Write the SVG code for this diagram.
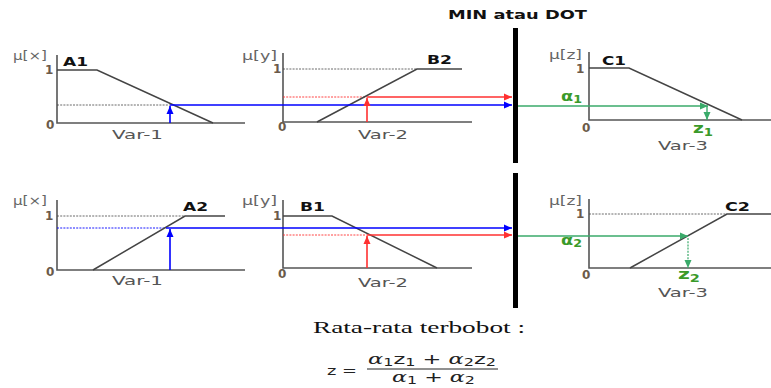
<svg xmlns="http://www.w3.org/2000/svg" width="771" height="388" viewBox="0 0 771 388">
<style>
.ax{fill:none;stroke:#555;stroke-width:1.6}
.mf{fill:none;stroke:#444;stroke-width:1.5}
.dot{stroke:#444;stroke-width:0.8;stroke-dasharray:2 1.2}
.bd{stroke:#0000ff;stroke-width:0.9;stroke-dasharray:2 1.2}
.rd{stroke:#ff3030;stroke-width:0.9;stroke-dasharray:2 1.2}
.b{stroke:#0000ff;stroke-width:1.6;fill:none}
.r{stroke:#ff3030;stroke-width:1.6;fill:none}
.g{stroke:#3aaa6a;stroke-width:1.4;fill:none}
.gd{stroke:#3aaa6a;stroke-width:1.2;stroke-dasharray:2 1.2;fill:none}
.mu{font-family:"DejaVu Sans",sans-serif;font-size:12px;fill:#666}
.n{font-family:"DejaVu Sans",sans-serif;font-size:12px;fill:#6b5a4a;font-weight:bold}
.lb{font-family:"DejaVu Sans",sans-serif;font-size:12px;fill:#111;font-weight:bold}
.v{font-family:"DejaVu Sans",sans-serif;font-size:12px;fill:#555}
.gt{font-family:"DejaVu Sans",sans-serif;font-size:14px;fill:#3a9a2a;font-weight:bold}
.bar{fill:#000}
</style>
<defs>
<marker id="ab" markerUnits="userSpaceOnUse" markerWidth="9" markerHeight="8" refX="8" refY="4" orient="auto"><path d="M0,0.5 L8,4 L0,7.5 z" fill="#0000ff"/></marker>
<marker id="ar" markerUnits="userSpaceOnUse" markerWidth="9" markerHeight="8" refX="8" refY="4" orient="auto"><path d="M0,0.5 L8,4 L0,7.5 z" fill="#ff3030"/></marker>
<marker id="ag" markerUnits="userSpaceOnUse" markerWidth="9" markerHeight="8" refX="8" refY="4" orient="auto"><path d="M0,0.5 L8,4 L0,7.5 z" fill="#3aaa6a"/></marker>
</defs>
<rect width="771" height="388" fill="#fff"/>

<text x="448" y="19" font-family="DejaVu Sans,sans-serif" font-size="13" font-weight="bold" fill="#111" textLength="139" lengthAdjust="spacingAndGlyphs">MIN atau DOT</text>
<rect class="bar" x="513" y="28" width="5" height="135"/>
<rect class="bar" x="513" y="173" width="5" height="135"/>

<g id="A1">
<path class="ax" d="M57,55 V123 H245"/>
<line class="dot" x1="57" y1="105" x2="170" y2="105"/>
<path class="mf" d="M57,70 H97 L213,123"/>
<text class="mu" x="13" y="60" textLength="34" lengthAdjust="spacingAndGlyphs">μ[×]</text>
<text class="n" x="45" y="74">1</text>
<text class="n" x="46" y="129">0</text>
<text class="lb" x="63" y="66" textLength="25" lengthAdjust="spacingAndGlyphs">A1</text>
<text class="v" x="112" y="139" textLength="51" lengthAdjust="spacingAndGlyphs">Var-1</text>
</g>

<g id="B2">
<path class="ax" d="M283,53 V122 H472"/>
<line class="dot" x1="283" y1="69" x2="417" y2="69"/>
<line class="rd" x1="283" y1="97" x2="367" y2="97"/>
<path class="mf" d="M317,122 L417,69 H462"/>
<text class="mu" x="242" y="60" textLength="35" lengthAdjust="spacingAndGlyphs">μ[y]</text>
<text class="n" x="273" y="73">1</text>
<text class="n" x="278" y="131">0</text>
<text class="lb" x="427" y="64" textLength="25" lengthAdjust="spacingAndGlyphs">B2</text>
<text class="v" x="358" y="139" textLength="50" lengthAdjust="spacingAndGlyphs">Var-2</text>
</g>

<g id="C1">
<path class="ax" d="M589,52 V120 H771"/>
<path class="mf" d="M589,68 H629 L742,120"/>
<text class="mu" x="549" y="59" textLength="33" lengthAdjust="spacingAndGlyphs">μ[z]</text>
<text class="n" x="576" y="73">1</text>
<text class="n" x="582" y="132">0</text>
<text class="lb" x="602" y="65" textLength="24" lengthAdjust="spacingAndGlyphs">C1</text>
<text class="gt" x="561" y="101" textLength="21" lengthAdjust="spacingAndGlyphs">α<tspan font-size="10" dy="2">1</tspan></text>
<text class="gt" x="693" y="133" textLength="20" lengthAdjust="spacingAndGlyphs">z<tspan font-size="10" dy="3">1</tspan></text>
<text class="v" x="658" y="150" textLength="50" lengthAdjust="spacingAndGlyphs">Var-3</text>
</g>

<g id="A2">
<path class="ax" d="M57,200 V270 H245"/>
<line class="dot" x1="57" y1="216" x2="185" y2="216"/>
<line class="bd" x1="57" y1="228" x2="166" y2="228"/>
<path class="mf" d="M93,270 L185,216 H225"/>
<text class="mu" x="13" y="205" textLength="34" lengthAdjust="spacingAndGlyphs">μ[×]</text>
<text class="n" x="45" y="220">1</text>
<text class="n" x="46" y="276">0</text>
<text class="lb" x="183" y="211" textLength="25" lengthAdjust="spacingAndGlyphs">A2</text>
<text class="v" x="112" y="285" textLength="51" lengthAdjust="spacingAndGlyphs">Var-1</text>
</g>

<g id="B1">
<path class="ax" d="M283,200 V268 H472"/>
<line class="rd" x1="283" y1="235" x2="367" y2="235"/>
<path class="mf" d="M283,216 H332 L437,268"/>
<text class="mu" x="242" y="205" textLength="35" lengthAdjust="spacingAndGlyphs">μ[y]</text>
<text class="n" x="273" y="220">1</text>
<text class="n" x="278" y="278">0</text>
<text class="lb" x="300" y="211" textLength="25" lengthAdjust="spacingAndGlyphs">B1</text>
<text class="v" x="358" y="287" textLength="50" lengthAdjust="spacingAndGlyphs">Var-2</text>
</g>

<g id="C2">
<path class="ax" d="M589,199 V268 H771"/>
<line class="dot" x1="589" y1="214" x2="727" y2="214"/>
<path class="mf" d="M630,268 L727,214 H771"/>
<text class="mu" x="549" y="205" textLength="33" lengthAdjust="spacingAndGlyphs">μ[z]</text>
<text class="n" x="576" y="218">1</text>
<text class="n" x="582" y="279">0</text>
<text class="lb" x="725" y="211" textLength="25" lengthAdjust="spacingAndGlyphs">C2</text>
<text class="gt" x="561" y="245" textLength="21" lengthAdjust="spacingAndGlyphs">α<tspan font-size="10" dy="2">2</tspan></text>
<text class="gt" x="678" y="279" textLength="22" lengthAdjust="spacingAndGlyphs">z<tspan font-size="10" dy="3">2</tspan></text>
<text class="v" x="658" y="297" textLength="50" lengthAdjust="spacingAndGlyphs">Var-3</text>
</g>

<g id="connectors">
<line class="b" x1="170" y1="123" x2="170" y2="106" marker-end="url(#ab)"/>
<line class="b" x1="170" y1="105" x2="512" y2="105" marker-end="url(#ab)"/>
<line class="r" x1="367" y1="122" x2="367" y2="98" marker-end="url(#ar)"/>
<line class="r" x1="367" y1="97" x2="512" y2="97" marker-end="url(#ar)"/>
<line class="g" x1="518" y1="106" x2="708" y2="106" marker-end="url(#ag)"/>
<line class="g" x1="707" y1="106" x2="707" y2="120" marker-end="url(#ag)"/>
<line class="b" x1="170" y1="270" x2="170" y2="229" marker-end="url(#ab)"/>
<line class="b" x1="166" y1="228" x2="512" y2="228" marker-end="url(#ab)"/>
<line class="r" x1="367" y1="268" x2="367" y2="236" marker-end="url(#ar)"/>
<line class="r" x1="367" y1="235" x2="512" y2="235" marker-end="url(#ar)"/>
<line class="g" x1="518" y1="236" x2="688" y2="236" marker-end="url(#ag)"/>
<line class="gd" x1="688" y1="238" x2="688" y2="268" marker-end="url(#ag)"/>
</g>

<g id="formula">
<text x="313" y="333" font-family="Liberation Serif,serif" font-size="17" fill="#111" textLength="212" lengthAdjust="spacingAndGlyphs">Rata-rata terbobot :</text>
<text x="327" y="375" font-family="DejaVu Sans,sans-serif" font-size="13" fill="#222" textLength="30" lengthAdjust="spacingAndGlyphs">z =</text>
<line x1="367" y1="369" x2="498" y2="369" stroke="#222" stroke-width="1"/>
<text x="368" y="364" font-family="DejaVu Sans,sans-serif" font-size="14" fill="#222" textLength="128" lengthAdjust="spacingAndGlyphs"><tspan font-style="italic" font-family="DejaVu Serif,serif">α</tspan><tspan font-size="10" dy="2">1</tspan><tspan dy="-2">z</tspan><tspan font-size="10" dy="2">1</tspan><tspan dy="-2"> + </tspan><tspan font-style="italic" font-family="DejaVu Serif,serif">α</tspan><tspan font-size="10" dy="2">2</tspan><tspan dy="-2">z</tspan><tspan font-size="10" dy="2">2</tspan></text>
<text x="392" y="382" font-family="DejaVu Sans,sans-serif" font-size="14" fill="#222" textLength="83" lengthAdjust="spacingAndGlyphs"><tspan font-style="italic" font-family="DejaVu Serif,serif">α</tspan><tspan font-size="10" dy="2">1</tspan><tspan dy="-2"> + </tspan><tspan font-style="italic" font-family="DejaVu Serif,serif">α</tspan><tspan font-size="10" dy="2">2</tspan></text>
</g>
</svg>
